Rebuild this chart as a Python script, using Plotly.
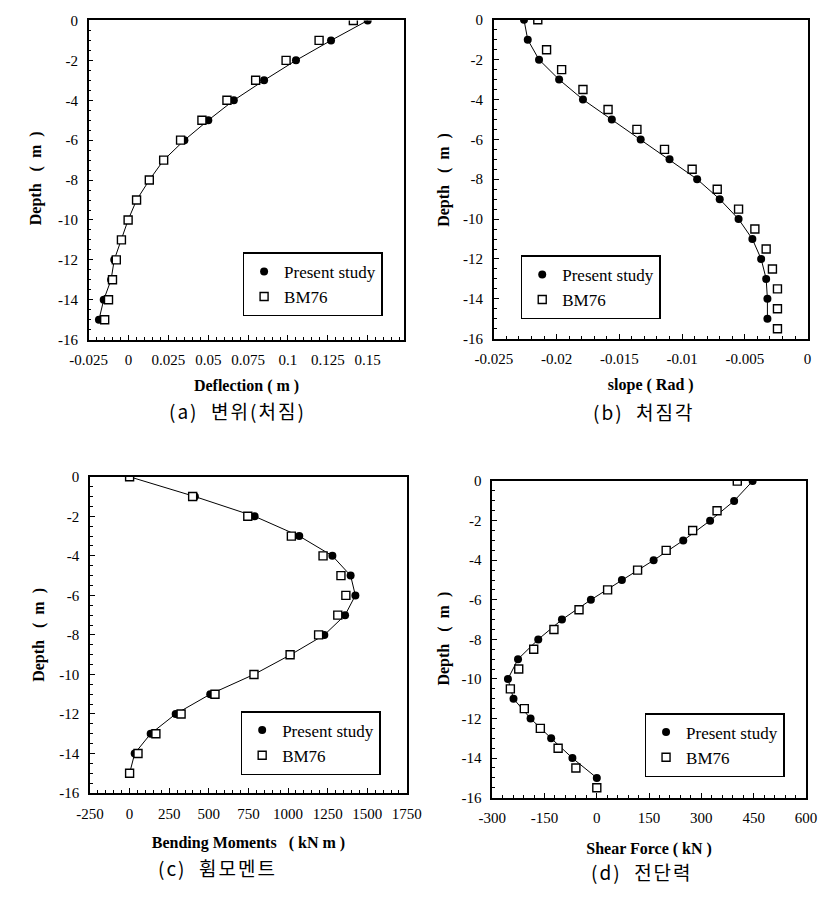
import plotly.graph_objects as go

# ---------------- data ----------------
depth_full = [0, -1, -2, -3, -4, -5, -6, -7, -8, -9, -10, -11, -12, -13, -14, -15]
depth_half = [0, -1.5, -2.5, -3.5, -4.5, -5.5, -6.5, -7.5, -8.5, -9.5, -10.5, -11.5, -12.5, -13.5, -14.5, -15.5]

# (a) Deflection (m)
defl_present = [0.150, 0.127, 0.105, 0.085, 0.066, 0.050, 0.035, 0.022, 0.013, 0.005, -0.0003, -0.0045,
                -0.009, -0.011, -0.0156, -0.0186]
defl_bm76 = [0.141, 0.1195, 0.0988, 0.0797, 0.0617, 0.046, 0.0326, 0.022, 0.013, 0.005, -0.0003, -0.0045,
             -0.0077, -0.0101, -0.0126, -0.015]

# (b) Slope (Rad)
slope_present = [-0.0226, -0.0223, -0.0214, -0.0198, -0.0179, -0.0156, -0.0133, -0.0110, -0.0088, -0.0070,
                 -0.0055, -0.0044, -0.0037, -0.0033, -0.0032, -0.0032]
slope_bm76 = [-0.0215, -0.0208, -0.0196, -0.0179, -0.0159, -0.0136, -0.0114, -0.0092, -0.0072, -0.0055,
              -0.0042, -0.0033, -0.0028, -0.0024, -0.0024, -0.0024]

# (c) Bending moments (kN m)
moment_present = [0, 412, 789, 1071, 1280, 1395, 1425, 1360, 1229, 1017, 785, 509, 291, 133, 32, 0]
moment_bm76 = [0, 398, 746, 1021, 1221, 1334, 1365, 1314, 1193, 1013, 785, 539, 325, 166, 53, 0]

# (d) Shear force (kN)
shear_present = [447, 394, 325, 248, 163, 72, -17, -100, -168, -226, -255, -239, -190, -131, -70, 0]
shear_bm76 = [403, 345, 275, 199, 117, 31, -51, -123, -181, -224, -248, -208, -162, -111, -60, 0]

# tick labels
y_tickvals = [0, -2, -4, -6, -8, -10, -12, -14, -16]
y_ticktext = ["0", "-2", "-4", "-6", "-8", "-10", "-12", "-14", "-16"]
xa_tickvals = [-0.025, 0, 0.025, 0.05, 0.075, 0.1, 0.125, 0.15]
xa_ticktext = ["-0.025", "0", "0.025", "0.05", "0.075", "0.1", "0.125", "0.15"]
xb_tickvals = [-0.025, -0.02, -0.015, -0.01, -0.005, 0]
xb_ticktext = ["-0.025", "-0.02", "-0.015", "-0.01", "-0.005", "0"]
xc_tickvals = [-250, 0, 250, 500, 750, 1000, 1250, 1500, 1750]
xc_ticktext = ["-250", "0", "250", "500", "750", "1000", "1250", "1500", "1750"]
xd_tickvals = [-300, -150, 0, 150, 300, 450, 600]
xd_ticktext = ["-300", "-150", "0", "150", "300", "450", "600"]

x_titles = ["Deflection ( m )", "slope ( Rad )", "Bending Moments   ( kN m )", "Shear Force ( kN )"]
y_title = "Depth   (  m  )"
captions = ["(a)  변위(처짐)", "(b)  처짐각", "(c)  휨모멘트", "(d)  전단력"]

# ---------------- layout geometry ----------------
W, H = 836, 897
def px_x(a, b):
    return [a / W, b / W]
def px_y(top, bottom):
    return [1 - bottom / H, 1 - top / H]

panels = [
    dict(xd=px_x(72.7, 401.7), yd=px_y(12.7, 337.7), xr=[-0.025, 0.173], tv=xa_tickvals, tt=xa_ticktext, minor=0.005,
         leg=dict(x=379 / W, y=1 - 314 / H, xanchor="right"), cap=(228, 410), ytp=(18, 173), xst=12),
    dict(xd=px_x(495, 822), yd=px_y(12, 336.7), xr=[-0.025, 0], tv=xb_tickvals, tt=xb_ticktext, minor=0.001,
         leg=dict(x=523 / W, y=1 - 317 / H, xanchor="left"), cap=(651, 411), ytp=(443, 175), xst=12),
    dict(xd=px_x(74, 404.3), yd=px_y(477.3, 799.3), xr=[-250, 1750], tv=xc_tickvals, tt=xc_ticktext, minor=50,
         leg=dict(x=377 / W, y=1 - 781 / H, xanchor="right"), cap=(207, 875), ytp=(20, 638), xst=16),
    dict(xd=px_x(493.3, 820.3), yd=px_y(481.7, 804), xr=[-300, 600], tv=xd_tickvals, tt=xd_ticktext, minor=30,
         leg=dict(x=798 / W, y=1 - 783 / H, xanchor="right"), cap=(649, 879), ytp=(443, 642), xst=17),
]

series = [
    (defl_present, depth_full, defl_bm76, depth_full),
    (slope_present, depth_full, slope_bm76, depth_half),
    (moment_present, depth_full, moment_bm76, depth_full),
    (shear_present, depth_full, shear_bm76, depth_half),
]

serif = "Liberation Serif"
fig = go.Figure()
layout = dict(width=W, height=H, margin=dict(l=0, r=0, t=0, b=0),
              paper_bgcolor="white", plot_bgcolor="white", showlegend=True, annotations=[])

for i, (p, s) in enumerate(zip(panels, series)):
    n = "" if i == 0 else str(i + 1)
    legname = "legend" if i == 0 else f"legend{i + 1}"
    xp, yp, xb, yb = s
    # connecting line of the present study
    fig.add_trace(go.Scatter(x=xp, y=yp, mode="lines", name="Present study", showlegend=False,
                             line=dict(color="black", width=1), hoverinfo="skip",
                             xaxis="x" + n, yaxis="y" + n, legend=legname))
    fig.add_trace(go.Scatter(x=xp, y=yp, mode="markers", name="Present study",
                             marker=dict(symbol="circle", size=8, color="black"),
                             xaxis="x" + n, yaxis="y" + n, legend=legname))
    fig.add_trace(go.Scatter(x=xb, y=yb, mode="markers", name="BM76",
                             marker=dict(symbol="square", size=8, color="white",
                                         line=dict(width=1.4, color="black")),
                             xaxis="x" + n, yaxis="y" + n, legend=legname))
    common = dict(showline=True, linecolor="black", linewidth=1.5, mirror=True, showgrid=False, zeroline=False,
                  ticks="inside", ticklen=5, tickcolor="black", tickwidth=1,
                  tickfont=dict(family=serif, size=15, color="black"), ticklabelstandoff=6)
    layout["xaxis" + n] = dict(common, domain=p["xd"], range=p["xr"], tickmode="array",
                               tickvals=p["tv"], ticktext=p["tt"], anchor="y" + n,
                               minor=dict(ticks="inside", ticklen=3, dtick=p["minor"], tickcolor="black"),
                               title=dict(text="<b>" + x_titles[i] + "</b>",
                                          font=dict(family=serif, size=16, color="black"),
                                          standoff=p["xst"]))
    layout["yaxis" + n] = dict(common, domain=p["yd"], range=[-16, 0], tickmode="array",
                               tickvals=y_tickvals, ticktext=y_ticktext, anchor="x" + n,
                               minor=dict(ticks="inside", ticklen=3, dtick=0.5, tickcolor="black"))
    layout[legname] = dict(x=p["leg"]["x"], y=p["leg"]["y"], xanchor=p["leg"]["xanchor"], yanchor="bottom",
                           xref="paper", yref="paper", bgcolor="white", bordercolor="black", borderwidth=1.5,
                           font=dict(family=serif, size=17, color="black"), itemwidth=30, tracegroupgap=0)
    tx, ty = p["ytp"]
    layout["annotations"].append(dict(text="<b>" + y_title + "</b>", x=tx / W, y=1 - ty / H,
                                      xref="paper", yref="paper", showarrow=False, textangle=-90,
                                      xanchor="center", yanchor="middle",
                                      font=dict(family=serif, size=16, color="black")))
    cx, cy = p["cap"]
    layout["annotations"].append(dict(text='<span style="letter-spacing:2px">' + captions[i] + "</span>",
                                      x=cx / W, y=1 - cy / H, xref="paper", yref="paper",
                                      showarrow=False, xanchor="center", yanchor="middle",
                                      font=dict(family="Noto Sans CJK KR", size=19, color="black")))

fig.update_layout(**layout)
fig.write_html("out.html")
